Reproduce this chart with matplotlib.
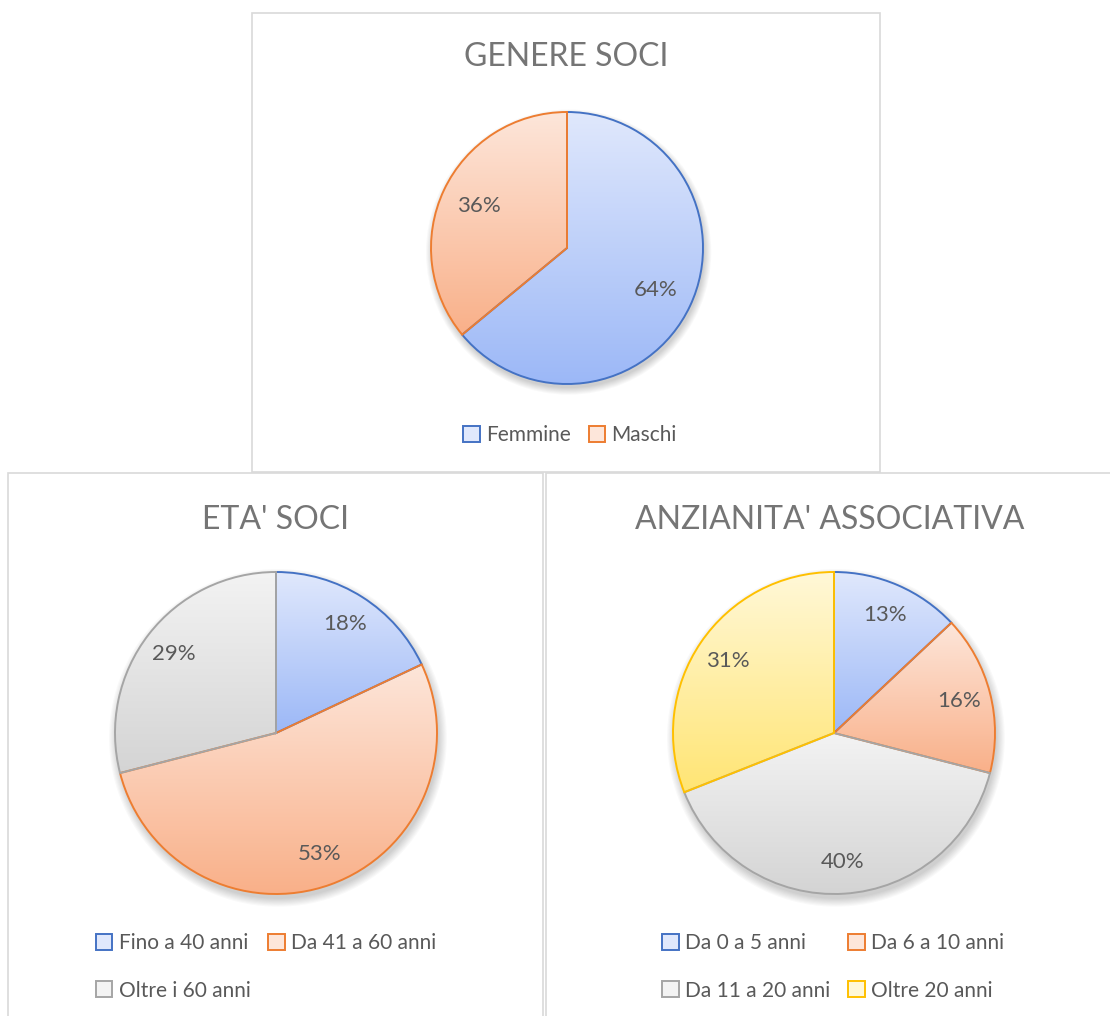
import numpy as np
import matplotlib
matplotlib.use("Agg")
import matplotlib.pyplot as plt
from matplotlib.patches import Rectangle, Circle, Patch
from matplotlib.colors import LinearSegmentedColormap

plt.rcParams['font.family'] = ['Lato', 'DejaVu Sans']

W, H = 1110, 1016

# --- data -------------------------------------------------------------
gender_labels = ["Femmine", "Maschi"]
gender_values = [64, 36]

age_labels = ["Fino a 40 anni", "Da 41 a 60 anni", "Oltre i 60 anni"]
age_values = [18, 53, 29]

seniority_labels = ["Da 0 a 5 anni", "Da 6 a 10 anni", "Da 11 a 20 anni", "Oltre 20 anni"]
seniority_values = [13, 16, 40, 31]

# Office-like palette: (edge, gradient top, gradient bottom)
PALETTE = [
    ("#4472c4", "#e0e8fc", "#9cb8f7"),
    ("#ed7d31", "#fde6da", "#f9b089"),
    ("#a5a5a5", "#f3f3f3", "#d4d4d4"),
    ("#ffc000", "#fff8d8", "#ffe574"),
]
TITLE_COLOR = "#757575"
TEXT_COLOR = "#595959"
BORDER_COLOR = "#d9d9d9"


def fx(x):
    return x / W


def fy(y):
    return 1 - y / H


def draw_panel(fig, box, title, title_y, labels, values, center, radius,
               pctdist, legend_xy):
    # panel frame
    x0, y0, x1, y1 = box
    fig.patches.append(Rectangle((fx(x0), fy(y1)), fx(x1) - fx(x0), fy(y0) - fy(y1),
                                 transform=fig.transFigure, fill=False,
                                 edgecolor=BORDER_COLOR, lw=1.2, zorder=0))
    fig.text(fx((x0 + x1) / 2), fy(title_y), title, ha='center', va='center',
             fontsize=23, color=TITLE_COLOR)

    cx, cy = center
    pad = 1.12
    ax = fig.add_axes([fx(cx - radius * pad), fy(cy + radius * pad),
                       2 * radius * pad / W, 2 * radius * pad / H])
    ax.axis('off')

    # soft shadow under the pie
    for k in range(8):
        ax.add_patch(Circle((0.012, -0.03), 1.0 + k * 0.007, color='black',
                            alpha=0.025, lw=0, zorder=0.5))

    wedges, _, autotexts = ax.pie(
        values, startangle=90, counterclock=False, radius=1,
        autopct=lambda p: f"{p:.0f}%", pctdistance=pctdist,
        textprops=dict(color=TEXT_COLOR, fontsize=16),
        wedgeprops=dict(linewidth=1.4))

    grad = np.linspace(0, 1, 256).reshape(-1, 1)
    for i, w in enumerate(wedges):
        edge, top, bottom = PALETTE[i]
        w.set_edgecolor(edge)
        w.set_facecolor('none')
        w.set_zorder(2 + i * 0.01)
        ext = w.get_path().get_extents()
        cmap = LinearSegmentedColormap.from_list(f"g{i}", [top, bottom])
        im = ax.imshow(grad, cmap=cmap, origin='upper', aspect='auto',
                       extent=(ext.x0, ext.x1, ext.y0, ext.y1),
                       interpolation='bilinear', zorder=1)
        im.set_clip_path(w)
    for t in autotexts:
        t.set_zorder(5)

    ax.set_xlim(-pad, pad)
    ax.set_ylim(-pad, pad)

    handles = [Patch(facecolor=PALETTE[i][1], edgecolor=PALETTE[i][0], lw=1.4)
               for i in range(len(values))]
    # legend fills row by row in the original: interleave for matplotlib
    order = list(range(0, len(values), 2)) + list(range(1, len(values), 2))
    fig.legend([handles[i] for i in order], [labels[i] for i in order],
               loc='center', bbox_to_anchor=(fx(legend_xy[0]), fy(legend_xy[1])),
               bbox_transform=fig.transFigure, ncol=2, frameon=False,
               fontsize=15, labelcolor=TEXT_COLOR, handlelength=0.8,
               handleheight=0.8, handletextpad=0.3, columnspacing=0.85,
               labelspacing=1.3, borderaxespad=0, borderpad=0)


fig = plt.figure(figsize=(W / 100, H / 100), dpi=100)
fig.patch.set_facecolor('white')

draw_panel(fig, (252, 13, 880, 472), "GENERE SOCI", 57,
           gender_labels, gender_values, (567, 248), 136, 0.72, (570, 435))
draw_panel(fig, (8, 473, 543, 1020), "ETA' SOCI", 520,
           age_labels, age_values, (276, 733), 161, 0.8, (266, 967))
draw_panel(fig, (546, 473, 1114, 1020), "ANZIANITA' ASSOCIATIVA", 520,
           seniority_labels, seniority_values, (834, 733), 161, 0.8, (833, 967))

fig.savefig("out.png", dpi=100)
